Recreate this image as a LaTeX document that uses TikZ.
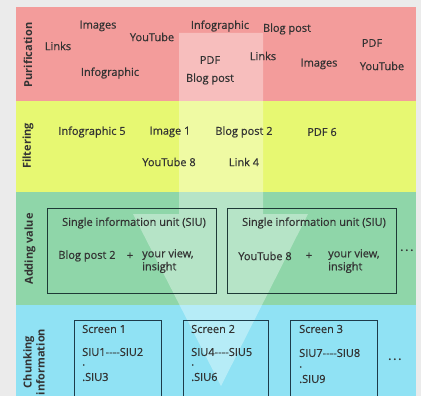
\documentclass[tikz,border=0pt]{standalone}
\usepackage{fontspec}
\setmainfont{Open Sans}
\newfontfamily\semifont{Open Sans}[FakeBold=0.6]
\usetikzlibrary{positioning}
\definecolor{cpink}{HTML}{F39C9B}
\definecolor{cyellow}{HTML}{E7F872}
\definecolor{cgreen}{HTML}{8FD6A9}
\definecolor{cblue}{HTML}{90E2F4}
\definecolor{cbg}{HTML}{EBEBEB}
\definecolor{ctext}{HTML}{333333}
\definecolor{cline}{HTML}{1E3A36}
\definecolor{cnavy}{HTML}{1D3B4A}
\tikzset{
  every picture/.style={x=1pt, y=-1pt, font=\semifont\fontsize{11}{13}\selectfont},
  stage/.style={font=\fontsize{11}{13}\selectfont\bfseries, text=ctext, rotate=90, align=center, inner sep=0pt},
  item/.style={text=ctext, inner sep=1pt},
  lefttext/.style={item, anchor=west, align=left},
  unit/.style={draw=#1, line width=0.9pt, inner sep=0pt},
  unit/.default=cline,
  more/.style={font=\fontsize{11}{13}\selectfont\bfseries, text=ctext},
}
\begin{document}
\begin{tikzpicture}
  \useasboundingbox[fill=cbg] (0,0) rectangle (421,396);
  % bands
  \fill[cpink] (16,7) rectangle (416,101);
  \fill[cyellow] (16,101) rectangle (416,192);
  \fill[cgreen] (16,192) rectangle (416,305);
  \fill[cblue] (16,305) rectangle (416,430);
  % big arrow
  \fill[white, fill opacity=0.35] (179,33) -- (263,33) -- (263,214) -- (308,214)
    -- (221,386) -- (133,214) -- (179,214) -- cycle;
  % stage labels
  \node[stage] (pur) at (28,55) {Purification};
  \node[stage] (fil) at (28,146) {Filtering};
  \node[stage] (add) at (30,249) {Adding value};
  \node[stage] (chu) at (34,362) {Chunking\\information};
  % purification
  \node[item] (p1) at (98,26) {Images};
  \node[item] (p2) at (152,37) {YouTube};
  \node[item] (p3) at (58,46) {Links};
  \node[item] (p4) at (110,73) {Infographic};
  \node[item] (p5) at (220,26) {Infographic};
  \node[item] (p6) at (287,29) {Blog post};
  \node[item] (p7) at (210,60) {PDF};
  \node[item] (p8) at (210,79) {Blog post};
  \node[item] (p9) at (263,56) {Links};
  \node[item] (p10) at (319,64) {Images};
  \node[item] (p11) at (372,43) {PDF};
  \node[item] (p12) at (382,66) {YouTube};
  % filtering
  \node[item] (f1) at (92,132) {Infographic 5};
  \node[item] (f2) at (170,132) {Image 1};
  \node[item] (f3) at (244,132) {Blog post 2};
  \node[item] (f4) at (322,132) {PDF 6};
  \node[item] (f5) at (169,162) {YouTube 8};
  \node[item] (f6) at (244,162) {Link 4};
  % adding value
  \node[unit, minimum width=169, minimum height=85] (siu1) at (131.5,250.5) {};
  \node[unit, minimum width=169, minimum height=85] (siu2) at (311.5,250.5) {};
  \node[item] (t1) at (134,223) {Single information unit (SIU)};
  \node[item] (t2) at (314,223) {Single information unit (SIU)};
  \node[item] (a1) at (87,256) {Blog post 2};
  \node[item] (a2) at (130,256) {+};
  \node[lefttext, anchor=north west] (a3) at (141,248) {your view,\\ insight};
  \node[item] (b1) at (265,256) {YouTube 8};
  \node[item] (b2) at (309,256) {+};
  \node[lefttext, anchor=north west] (b3) at (327,248) {your view,\\ insight};
  \node[more] (m1) at (407,251) {.\,.\,.};
  % chunking information
  \node[unit=cnavy, minimum width=87, minimum height=110] (s1) at (117.5,375) {};
  \node[unit=cnavy, minimum width=85, minimum height=110] (s2) at (225.5,375) {};
  \node[unit=cnavy, minimum width=87, minimum height=110] (s3) at (333.5,375) {};
  \node[lefttext] (c1) at (81,329) {Screen 1};
  \node[lefttext] (c2) at (81,352) {SIU1-{}-{}-{}-SIU2};
  \node[lefttext] (c3) at (81,365) {.};
  \node[lefttext] (c4) at (81,377) {.SIU3};
  \node[lefttext] (d1) at (190,329) {Screen 2};
  \node[lefttext] (d2) at (190,352) {SIU4-{}-{}-{}-SIU5};
  \node[lefttext] (d3) at (190,365) {.};
  \node[lefttext] (d4) at (190,377) {.SIU6};
  \node[lefttext] (e1) at (298,329) {Screen 3};
  \node[lefttext] (e2) at (298,353) {SIU7-{}-{}-{}-SIU8};
  \node[lefttext] (e3) at (298,367) {.};
  \node[lefttext] (e4) at (298,379) {.SIU9};
  \node[more] (m2) at (395,360) {.\,.\,.};
\end{tikzpicture}
\end{document}
